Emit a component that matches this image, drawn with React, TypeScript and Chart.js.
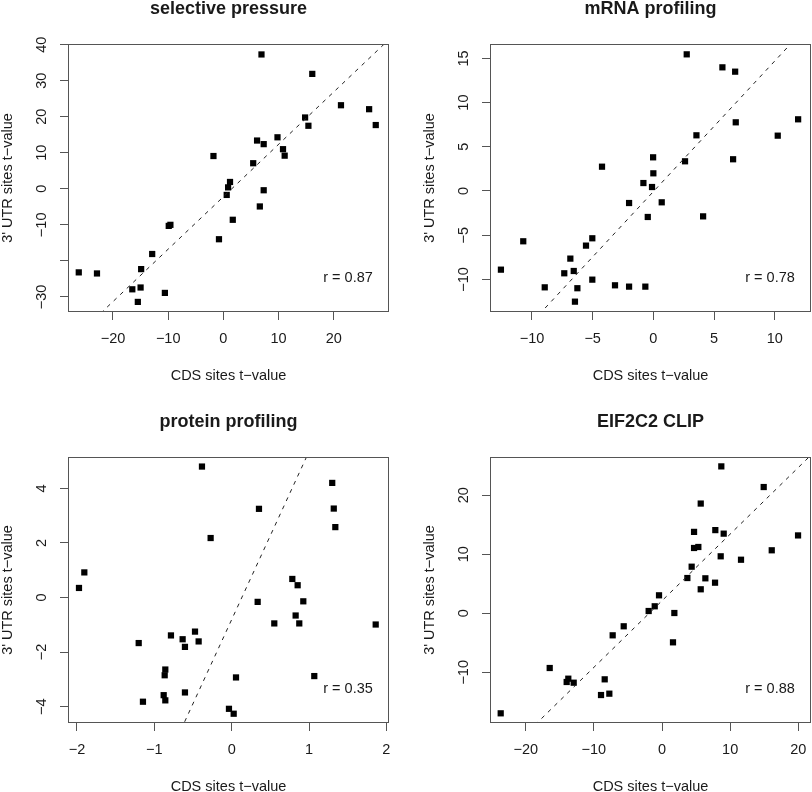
import React, { useEffect, useRef } from 'react';
import { Chart, registerables } from 'chart.js';

Chart.register(...registerables);

const FONT = "'Liberation Sans', Arial, Helvetica, sans-serif";
const MINUS = '\u2212';

// ---- selective pressure ----
const spX = [6.9, 16.1, 21.3, 26.4, 27.6, 14.8, 15.4, 6.1, 7.3, 9.8, 10.8, 11.1, -1.8, 5.4, 1.2, 0.85, 0.6, 7.3, 6.6, 1.7, -9.9, -9.6, -0.8, -12.9, -14.9, -26.2, -22.9, -16.5, -15.0, -10.6, -15.5];
const spY = [37.3, 31.9, 23.2, 22.1, 17.7, 19.8, 17.5, 13.4, 12.4, 14.3, 11.0, 9.2, 9.1, 7.1, 1.9, 0.4, -1.7, -0.4, -4.9, -8.6, -10.3, -10.0, -14.0, -18.1, -22.3, -23.2, -23.5, -27.9, -27.4, -28.9, -31.4];
const spXTicks = [-20, -10, 0, 10, 20];
const spXLabels = [MINUS + '20', MINUS + '10', '0', '10', '20'];
const spYTicks = [-30, -20, -10, 0, 10, 20, 30, 40];
const spYLabels = [MINUS + '30', '', MINUS + '10', '0', '10', '20', '30', '40'];

// ---- mRNA profiling ----
const mrX = [2.75, 5.69, 6.74, 6.79, 11.93, 10.25, 3.55, 6.57, 2.61, -0.02, 0.0, -4.23, -0.82, -0.11, 0.69, -2.0, -0.46, 4.1, -5.03, -5.55, -10.72, -6.84, -7.34, -6.56, -5.03, -12.56, -8.95, -6.26, -3.16, -2.0, -0.66, -6.46];
const mrY = [15.46, 13.99, 13.5, 7.77, 8.11, 6.26, 6.3, 3.59, 3.36, 3.81, 2.0, 2.75, 0.9, 0.45, -1.28, -1.36, -2.94, -2.87, -5.35, -6.18, -5.69, -7.65, -9.31, -9.05, -10.03, -8.9, -10.9, -11.0, -10.67, -10.82, -10.82, -12.52];
const mrXTicks = [-10, -5, 0, 5, 10];
const mrXLabels = [MINUS + '10', MINUS + '5', '0', '5', '10'];
const mrYTicks = [-10, -5, 0, 5, 10, 15];
const mrYLabels = [MINUS + '10', MINUS + '5', '0', '5', '10', '15'];

// ---- protein profiling ----
const ppX = [-0.384, 1.3, 1.32, 0.353, 1.34, -0.272, -1.905, -1.974, 0.784, 0.853, 0.336, 0.926, 0.827, 0.551, 0.874, 1.862, -1.202, -0.785, -0.634, -0.604, -0.474, -0.427, -0.858, -0.866, 0.056, 1.068, -0.604, -0.879, -0.858, -1.147, -0.035, 0.026];
const ppY = [4.8, 4.2, 3.26, 3.25, 2.58, 2.18, 0.92, 0.35, 0.68, 0.45, -0.16, -0.14, -0.66, -0.95, -0.95, -0.99, -1.67, -1.39, -1.53, -1.81, -1.25, -1.61, -2.64, -2.85, -2.93, -2.88, -3.48, -3.58, -3.77, -3.82, -4.08, -4.26];
const ppXTicks = [-2, -1, 0, 1, 2];
const ppXLabels = [MINUS + '2', MINUS + '1', '0', '1', '2'];
const ppYTicks = [-4, -2, 0, 2, 4];
const ppYLabels = [MINUS + '4', MINUS + '2', '0', '2', '4'];

// ---- EIF2C2 CLIP ----
const clX = [8.7, 14.92, 5.68, 7.82, 9.05, 4.7, 19.96, 4.7, 5.33, 16.1, 8.61, 11.59, 4.35, 3.72, 6.36, 7.78, 5.68, -0.44, -1.07, -1.96, 1.81, -5.62, -7.24, 1.61, -16.48, -8.41, -13.75, -13.99, -12.96, -8.95, -7.73, -23.67];
const clY = [24.9, 21.4, 18.6, 14.1, 13.5, 13.8, 13.2, 11.07, 11.24, 10.68, 9.66, 9.08, 7.9, 5.98, 5.93, 5.19, 4.07, 3.05, 1.19, 0.39, 0.05, -2.2, -3.73, -4.92, -9.27, -11.19, -11.08, -11.64, -11.76, -13.85, -13.62, -16.95];
const clXTicks = [-20, -10, 0, 10, 20];
const clXLabels = [MINUS + '20', MINUS + '10', '0', '10', '20'];
const clYTicks = [-10, 0, 10, 20];
const clYLabels = [MINUS + '10', '0', '10', '20'];

const titles = ['selective pressure', 'mRNA profiling', 'protein profiling', 'EIF2C2 CLIP'];
const rLabels = ['r = 0.87', 'r = 0.78', 'r = 0.35', 'r = 0.88'];
// dashed fit line: y = intercept + slope * x
const fitSlopes = [1.455, 1.477, 6.16, 1.129];
const fitIntercepts = [-2.2, -0.07, -0.81, 2.13];
const xTitle = 'CDS sites t' + MINUS + 'value';
const yTitle = "3' UTR sites t" + MINUS + 'value';

interface PanelDef {
  title: string;
  r: string;
  xs: number[];
  ys: number[];
  xTicks: number[];
  xLabels: string[];
  yTicks: number[];
  yLabels: string[];
  xRange: [number, number];
  yRange: [number, number];
  slope: number;
  intercept: number;
  box: { L: number; T: number; R: number; B: number };
}

const panels: PanelDef[] = [
  { title: titles[0], r: rLabels[0], xs: spX, ys: spY, xTicks: spXTicks, xLabels: spXLabels, yTicks: spYTicks, yLabels: spYLabels,
    xRange: [-28.15, 30], yRange: [-34.2, 40.2], slope: fitSlopes[0], intercept: fitIntercepts[0], box: { L: 68, T: 44, R: 389, B: 312 } },
  { title: titles[1], r: rLabels[1], xs: mrX, ys: mrY, xTicks: mrXTicks, xLabels: mrXLabels, yTicks: mrYTicks, yLabels: mrYLabels,
    xRange: [-13.46, 12.99], yRange: [-13.69, 16.63], slope: fitSlopes[1], intercept: fitIntercepts[1], box: { L: 490, T: 44, R: 811, B: 312 } },
  { title: titles[2], r: rLabels[2], xs: ppX, ys: ppY, xTicks: ppXTicks, xLabels: ppXLabels, yTicks: ppYTicks, yLabels: ppYLabels,
    xRange: [-2.116, 2.034], yRange: [-4.6, 5.15], slope: fitSlopes[2], intercept: fitIntercepts[2], box: { L: 68, T: 457, R: 389, B: 723 } },
  { title: titles[3], r: rLabels[3], xs: clX, ys: clY, xTicks: clXTicks, xLabels: clXLabels, yTicks: clYTicks, yLabels: clYLabels,
    xRange: [-25.24, 21.86], yRange: [-18.59, 26.49], slope: fitSlopes[3], intercept: fitIntercepts[3], box: { L: 490, T: 457, R: 811, B: 723 } },
];

const Y_AXIS_W = 69;
const X_AXIS_H = 73;
const PAD_TOP = 44;
const PAD_RIGHT = 12;
const TEXT = '#1a1a1a';
const LINE = '#555555';
const FS = 14.5;

function buildConfig(p: PanelDef): any {
  const decor = {
    id: 'rDecor',
    afterDraw(chart: any) {
      const { ctx, chartArea: a, scales } = chart;
      ctx.save();
      // box
      ctx.strokeStyle = LINE;
      ctx.lineWidth = 1;
      const l = Math.round(a.left) + 0.5;
      const t = Math.round(a.top) + 0.5;
      const r = Math.round(a.right) - 0.5;
      const b = Math.round(a.bottom) - 0.5;
      ctx.strokeRect(l, t, r - l, b - t);
      // title
      ctx.fillStyle = TEXT;
      ctx.font = `bold 18px ${FONT}`;
      ctx.textAlign = 'center';
      ctx.textBaseline = 'middle';
      ctx.fillText(p.title, (a.left + a.right) / 2, a.top - 35);
      // r label
      ctx.font = `${FS}px ${FONT}`;
      ctx.fillText(p.r, a.right - 41, a.bottom - 34);
      // rotated y tick labels
      const ys = scales.y;
      p.yTicks.forEach((v, i) => {
        const lab = p.yLabels[i];
        if (!lab) return;
        const py = ys.getPixelForValue(v);
        ctx.save();
        ctx.translate(a.left - 26.5, py);
        ctx.rotate(-Math.PI / 2);
        ctx.fillText(lab, 0, 0);
        ctx.restore();
      });
      ctx.restore();
    },
  };

  const pts = p.xs.map((x, i) => ({ x, y: p.ys[i] }));
  const lineData = [p.xRange[0], p.xRange[1]].map((x) => ({ x, y: p.intercept + p.slope * x }));

  const gridOpts = {
    display: true,
    drawOnChartArea: false,
    drawTicks: true,
    tickLength: 8,
    color: LINE,
    lineWidth: 1,
  };

  return {
    type: 'scatter',
    data: {
      datasets: [
        {
          type: 'line',
          data: lineData,
          borderColor: '#222',
          borderWidth: 1,
          borderDash: [4, 5],
          pointRadius: 0,
          fill: false,
          tension: 0,
        },
        {
          type: 'scatter',
          data: pts,
          pointStyle: 'rect',
          pointRadius: 4.4,
          backgroundColor: '#000',
          borderWidth: 0,
          clip: false,
        },
      ],
    },
    options: {
      responsive: false,
      animation: false,
      devicePixelRatio: 1,
      events: [],
      layout: { padding: { left: 0, top: PAD_TOP, right: PAD_RIGHT, bottom: 0 } },
      plugins: { legend: { display: false }, tooltip: { enabled: false }, title: { display: false } },
      scales: {
        x: {
          type: 'linear',
          position: 'bottom',
          min: p.xRange[0],
          max: p.xRange[1],
          afterBuildTicks: (s: any) => {
            s.ticks = p.xTicks.map((v) => ({ value: v }));
          },
          afterFit: (s: any) => {
            s.height = X_AXIS_H;
          },
          grid: gridOpts,
          border: { display: false },
          ticks: {
            autoSkip: false,
            maxRotation: 0,
            minRotation: 0,
            padding: 10,
            color: TEXT,
            font: { family: FONT, size: FS },
            callback: (_v: any, i: number) => p.xLabels[i],
          },
          title: { display: true, text: xTitle, color: TEXT, font: { family: FONT, size: FS }, padding: 0 },
        },
        y: {
          type: 'linear',
          position: 'left',
          min: p.yRange[0],
          max: p.yRange[1],
          afterBuildTicks: (s: any) => {
            s.ticks = p.yTicks.map((v) => ({ value: v }));
          },
          afterFit: (s: any) => {
            s.width = Y_AXIS_W;
          },
          grid: gridOpts,
          border: { display: false },
          ticks: { display: false, autoSkip: false },
          title: { display: true, text: yTitle, color: TEXT, font: { family: FONT, size: FS }, padding: 0 },
        },
      },
    },
    plugins: [decor],
  };
}

function Panel({ p }: { p: PanelDef }) {
  const ref = useRef<HTMLCanvasElement>(null);
  const left = p.box.L - Y_AXIS_W;
  const top = p.box.T - PAD_TOP;
  const width = Y_AXIS_W + (p.box.R - p.box.L) + PAD_RIGHT;
  const height = PAD_TOP + (p.box.B - p.box.T) + X_AXIS_H;
  useEffect(() => {
    const chart = new Chart(ref.current as HTMLCanvasElement, buildConfig(p));
    return () => chart.destroy();
  }, []);
  return (
    <canvas
      ref={ref}
      width={width}
      height={height}
      style={{ position: 'absolute', left, top, width, height, display: 'block' }}
    />
  );
}

export default function App() {
  return (
    <div
      style={{
        position: 'fixed',
        left: 0,
        top: 0,
        width: 812,
        height: 792,
        overflow: 'hidden',
        background: '#fff',
      }}
    >
      {panels.map((p, i) => (
        <Panel key={i} p={p} />
      ))}
    </div>
  );
}
